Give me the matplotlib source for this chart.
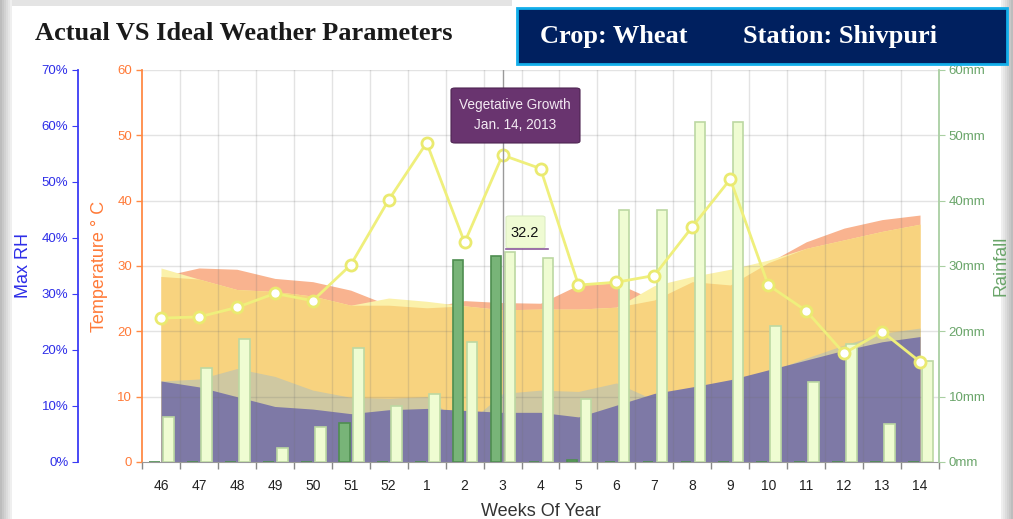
import numpy as np
import matplotlib
matplotlib.use("Agg")
import matplotlib.pyplot as plt
from matplotlib.patches import Rectangle, FancyBboxPatch

# ---------------- data ----------------
weeks = ["46", "47", "48", "49", "50", "51", "52", "1", "2", "3", "4",
         "5", "6", "7", "8", "9", "10", "11", "12", "13", "14"]
max_temp_actual = [28.4, 29.7, 29.5, 28.1, 27.6, 26.3, 24.0, 23.6, 24.7, 24.4, 24.3,
                   27.1, 27.4, 24.8, 27.6, 27.1, 30.5, 33.7, 35.8, 37.1, 37.8]
max_temp_ideal = [29.7, 28.0, 26.4, 26.1, 25.4, 24.0, 25.1, 24.6, 23.9, 23.3, 23.4,
                  23.4, 23.7, 27.0, 28.4, 29.5, 30.9, 32.7, 34.0, 35.3, 36.4]
min_temp_actual = [12.4, 11.5, 10.0, 8.5, 8.1, 7.4, 8.0, 8.2, 7.9, 7.6, 7.6,
                   6.9, 8.7, 10.5, 11.5, 12.6, 14.1, 15.6, 17.1, 18.4, 19.2]
min_temp_ideal = [12.4, 12.7, 14.3, 13.1, 11.0, 9.9, 9.75, 10.0, 5.5, 10.5, 11.0,
                  10.8, 12.1, 9.5, 10.8, 12.0, 13.8, 15.9, 17.9, 19.7, 20.5]
rain_ideal = [6.9, 14.4, 18.8, 2.2, 5.3, 17.5, 8.6, 10.4, 18.3, 32.2, 31.3,
              9.6, 38.5, 38.5, 52.0, 52.0, 20.8, 12.3, 18.1, 5.8, 15.5]
rain_actual = [0, 0, 0, 0, 0, 6.0, 0, 0, 30.9, 31.6, 0,
               0.3, 0, 0, 0, 0, 0, 0, 0, 0, 0]
max_rh = [25.7, 25.9, 27.6, 30.1, 28.8, 35.2, 46.8, 57.0, 39.2, 54.8, 52.4,
          31.6, 32.1, 33.3, 42.0, 50.5, 31.6, 27.0, 19.4, 23.3, 17.9]
temp_ticks = [0, 10, 20, 30, 40, 50, 60]
rh_ticks = [0, 10, 20, 30, 40, 50, 60, 70]
rain_ticks = [0, 10, 20, 30, 40, 50, 60]
tooltip_text = "Vegetative Growth\nJan. 14, 2013"
tooltip_week = "3"
tooltip_value = "32.2"

# ---------------- styling ----------------
plt.rcParams['font.family'] = ['Liberation Sans', 'DejaVu Sans']
W, H = 1013, 519
fig = plt.figure(figsize=(W / 100, H / 100), dpi=100)
fig.patch.set_facecolor('white')

def fx(px):
    return px / W

def fy(py):
    return 1 - py / H

# card shadow edges (drawn beneath everything)
for i, c in enumerate(['#bdbdbd', '#c8c8c8', '#d2d2d2', '#dcdcdc', '#e6e6e6', '#efefef']):
    fig.patches.append(Rectangle((fx(i * 2), 0), fx(2), 1, transform=fig.transFigure,
                                 facecolor=c, edgecolor='none', zorder=-5))
    fig.patches.append(Rectangle((fx(W - 2 - i * 2), 0), fx(2), 1, transform=fig.transFigure,
                                 facecolor=c, edgecolor='none', zorder=-5))
fig.patches.append(Rectangle((fx(12), fy(6)), fx(500), 6 / H, transform=fig.transFigure,
                             facecolor='#e4e4e4', edgecolor='none', zorder=-5))

x = np.arange(len(weeks))
left, right, top, bottom = 142, 939, 70, 462
pw, ph = right - left, bottom - top
ax = fig.add_axes([fx(left), fy(bottom), fx(pw), ph / H])
ax.set_facecolor('none')

c_salmon = '#F9B38F'
c_pale = '#FBF1AA'
c_gold = '#F8D37F'
c_tan = '#CFC8A1'
c_purple = '#7E79A6'

mxa = np.array(max_temp_actual)
mxi = np.array(max_temp_ideal)
mna = np.array(min_temp_actual)
mni = np.array(min_temp_ideal)
ax.fill_between(x, 0, mxa, color=c_salmon, lw=0, zorder=1)
ax.fill_between(x, 0, mxi, color=c_pale, lw=0, zorder=1.1)
ax.fill_between(x, 0, np.minimum(mxa, mxi), color=c_gold, lw=0, zorder=1.2)
ax.fill_between(x, 0, mni, color=c_tan, lw=0, zorder=1.3)
ax.fill_between(x, 0, mna, color=c_purple, lw=0, zorder=1.4)

# grid over areas (semi transparent)
for t in temp_ticks[1:]:
    ax.axhline(t, color=(0.45, 0.45, 0.45, 0.2), lw=1, zorder=2)
for k in range(1, len(weeks)):
    ax.axvline(k - 0.5, color=(0.45, 0.45, 0.45, 0.2), lw=1, zorder=2)

ax.set_xlim(-0.5, len(weeks) - 0.5)
ax.set_ylim(0, 60)
ax.set_yticks(temp_ticks)
orange = '#FF8A45'
ax.tick_params(axis='y', colors=orange, labelcolor='#FF7A38', length=4, width=1, labelsize=9.5, pad=3)
ax.set_xticks(x)
ax.set_xticklabels(weeks)
ax.set_xticks(np.arange(len(weeks) + 1) - 0.5, minor=True)
ax.tick_params(axis='x', which='major', length=0, pad=12, labelsize=10, labelcolor='#222222')
ax.tick_params(axis='x', which='minor', length=5, color='#888888', width=1)
for s in ['top', 'right']:
    ax.spines[s].set_visible(False)
ax.spines['left'].set_color(orange)
ax.spines['left'].set_linewidth(1.3)
ax.spines['bottom'].set_color('#999999')
ax.set_ylabel("Temperature ° C", color='#FF7A38', fontsize=13)
ax.yaxis.set_label_coords((108 - left) / pw, 0.5)
ax.set_xlabel("Weeks Of Year", color='#333333', fontsize=13)
ax.xaxis.set_label_coords(0.5, (bottom - 503) / ph)

# rainfall axis
axr = ax.twinx()
axr.set_ylim(0, 60)
bw = 0.28
axr.bar(x + 0.2, rain_ideal, width=bw, color='#EFFCD2', edgecolor='#BCD8A2', lw=1.2, zorder=3)
axr.bar(x - 0.17, rain_actual, width=bw, color='#78B478', edgecolor='#4E8E50', lw=1.2, zorder=3)
axr.set_yticks(rain_ticks)
axr.set_yticklabels([f"{t}mm" for t in rain_ticks])
green = '#A9CFA2'
axr.tick_params(axis='y', colors=green, labelcolor='#6AA56A', length=4, labelsize=9.5, pad=3)
for s in ['top', 'left', 'bottom']:
    axr.spines[s].set_visible(False)
axr.spines['right'].set_color(green)
axr.spines['right'].set_linewidth(1.3)
axr.set_ylabel("Rainfall", color='#6AA56A', fontsize=13, rotation=90)
axr.yaxis.set_label_coords((992 - left) / pw, 0.5)

# max RH axis
axh = ax.twinx()
axh.set_ylim(0, 70)
axh.yaxis.tick_left()
axh.yaxis.set_label_position('left')
axh.set_yticks(rh_ticks)
axh.set_yticklabels([f"{t}%" for t in rh_ticks])
blue = '#3B3BF5'
axh.tick_params(axis='y', colors=blue, labelcolor='#2E2EE8', length=4, labelsize=9.5, pad=3)
for s in ['top', 'right', 'bottom']:
    axh.spines[s].set_visible(False)
axh.spines['left'].set_position(('outward', (left - 78) * 0.72))
axh.spines['left'].set_color(blue)
axh.spines['left'].set_linewidth(1.3)
axh.set_ylabel("Max RH", color='#2E2EE8', fontsize=13)
axh.yaxis.set_label_coords((32 - left) / pw, 0.5)
axh.plot(x, max_rh, color='#EFEF7C', lw=2, marker='o', markersize=8,
         markerfacecolor='white', markeredgecolor='#EAEA70', markeredgewidth=2, zorder=4)

# hover line and tooltip
ti = weeks.index(tooltip_week)
axh.axvline(ti, color='#9a9a9a', lw=1, zorder=5)

fig.patches.append(FancyBboxPatch((fx(451), fy(143)), fx(129), (143 - 88) / H,
                                  boxstyle="round,pad=0,rounding_size=0.004",
                                  transform=fig.transFigure, facecolor='#69346F',
                                  edgecolor='#4e2452', lw=0.8, zorder=10))
fig.text(fx(515), fy(115), tooltip_text, ha='center', va='center', color='#F3EAF3',
         fontsize=9.8, linespacing=1.5, zorder=11)

fig.patches.append(FancyBboxPatch((fx(506), fy(248)), fx(39), (248 - 216) / H,
                                  boxstyle="round,pad=0,rounding_size=0.003",
                                  transform=fig.transFigure, facecolor='#EFFBD3',
                                  edgecolor='#DCEDC2', lw=0.8, zorder=10))
fig.text(fx(525), fy(233), tooltip_value, ha='center', va='center', color='#111111',
         fontsize=10.5, zorder=11)
fig.lines.append(plt.Line2D([fx(506), fx(548)], [fy(249), fy(249)], transform=fig.transFigure,
                            color='#8C5A9C', lw=1.2, zorder=11))

# header
fig.text(fx(35), fy(33), "Actual VS Ideal Weather Parameters", family='Liberation Serif',
         fontweight='bold', fontsize=19, color='#1a1a1a', va='center', ha='left')
fig.patches.append(Rectangle((fx(517), fy(64)), fx(490), (64 - 8) / H, transform=fig.transFigure,
                             facecolor='#00205F', edgecolor='#12AEEA', lw=2, zorder=5))
fig.text(fx(540), fy(37), "Crop: Wheat", family='Liberation Serif', fontweight='bold',
         fontsize=19, color='white', va='center', ha='left', zorder=6)
fig.text(fx(743), fy(37), "Station: Shivpuri", family='Liberation Serif', fontweight='bold',
         fontsize=19, color='white', va='center', ha='left', zorder=6)

fig.savefig("out.png", dpi=100)
